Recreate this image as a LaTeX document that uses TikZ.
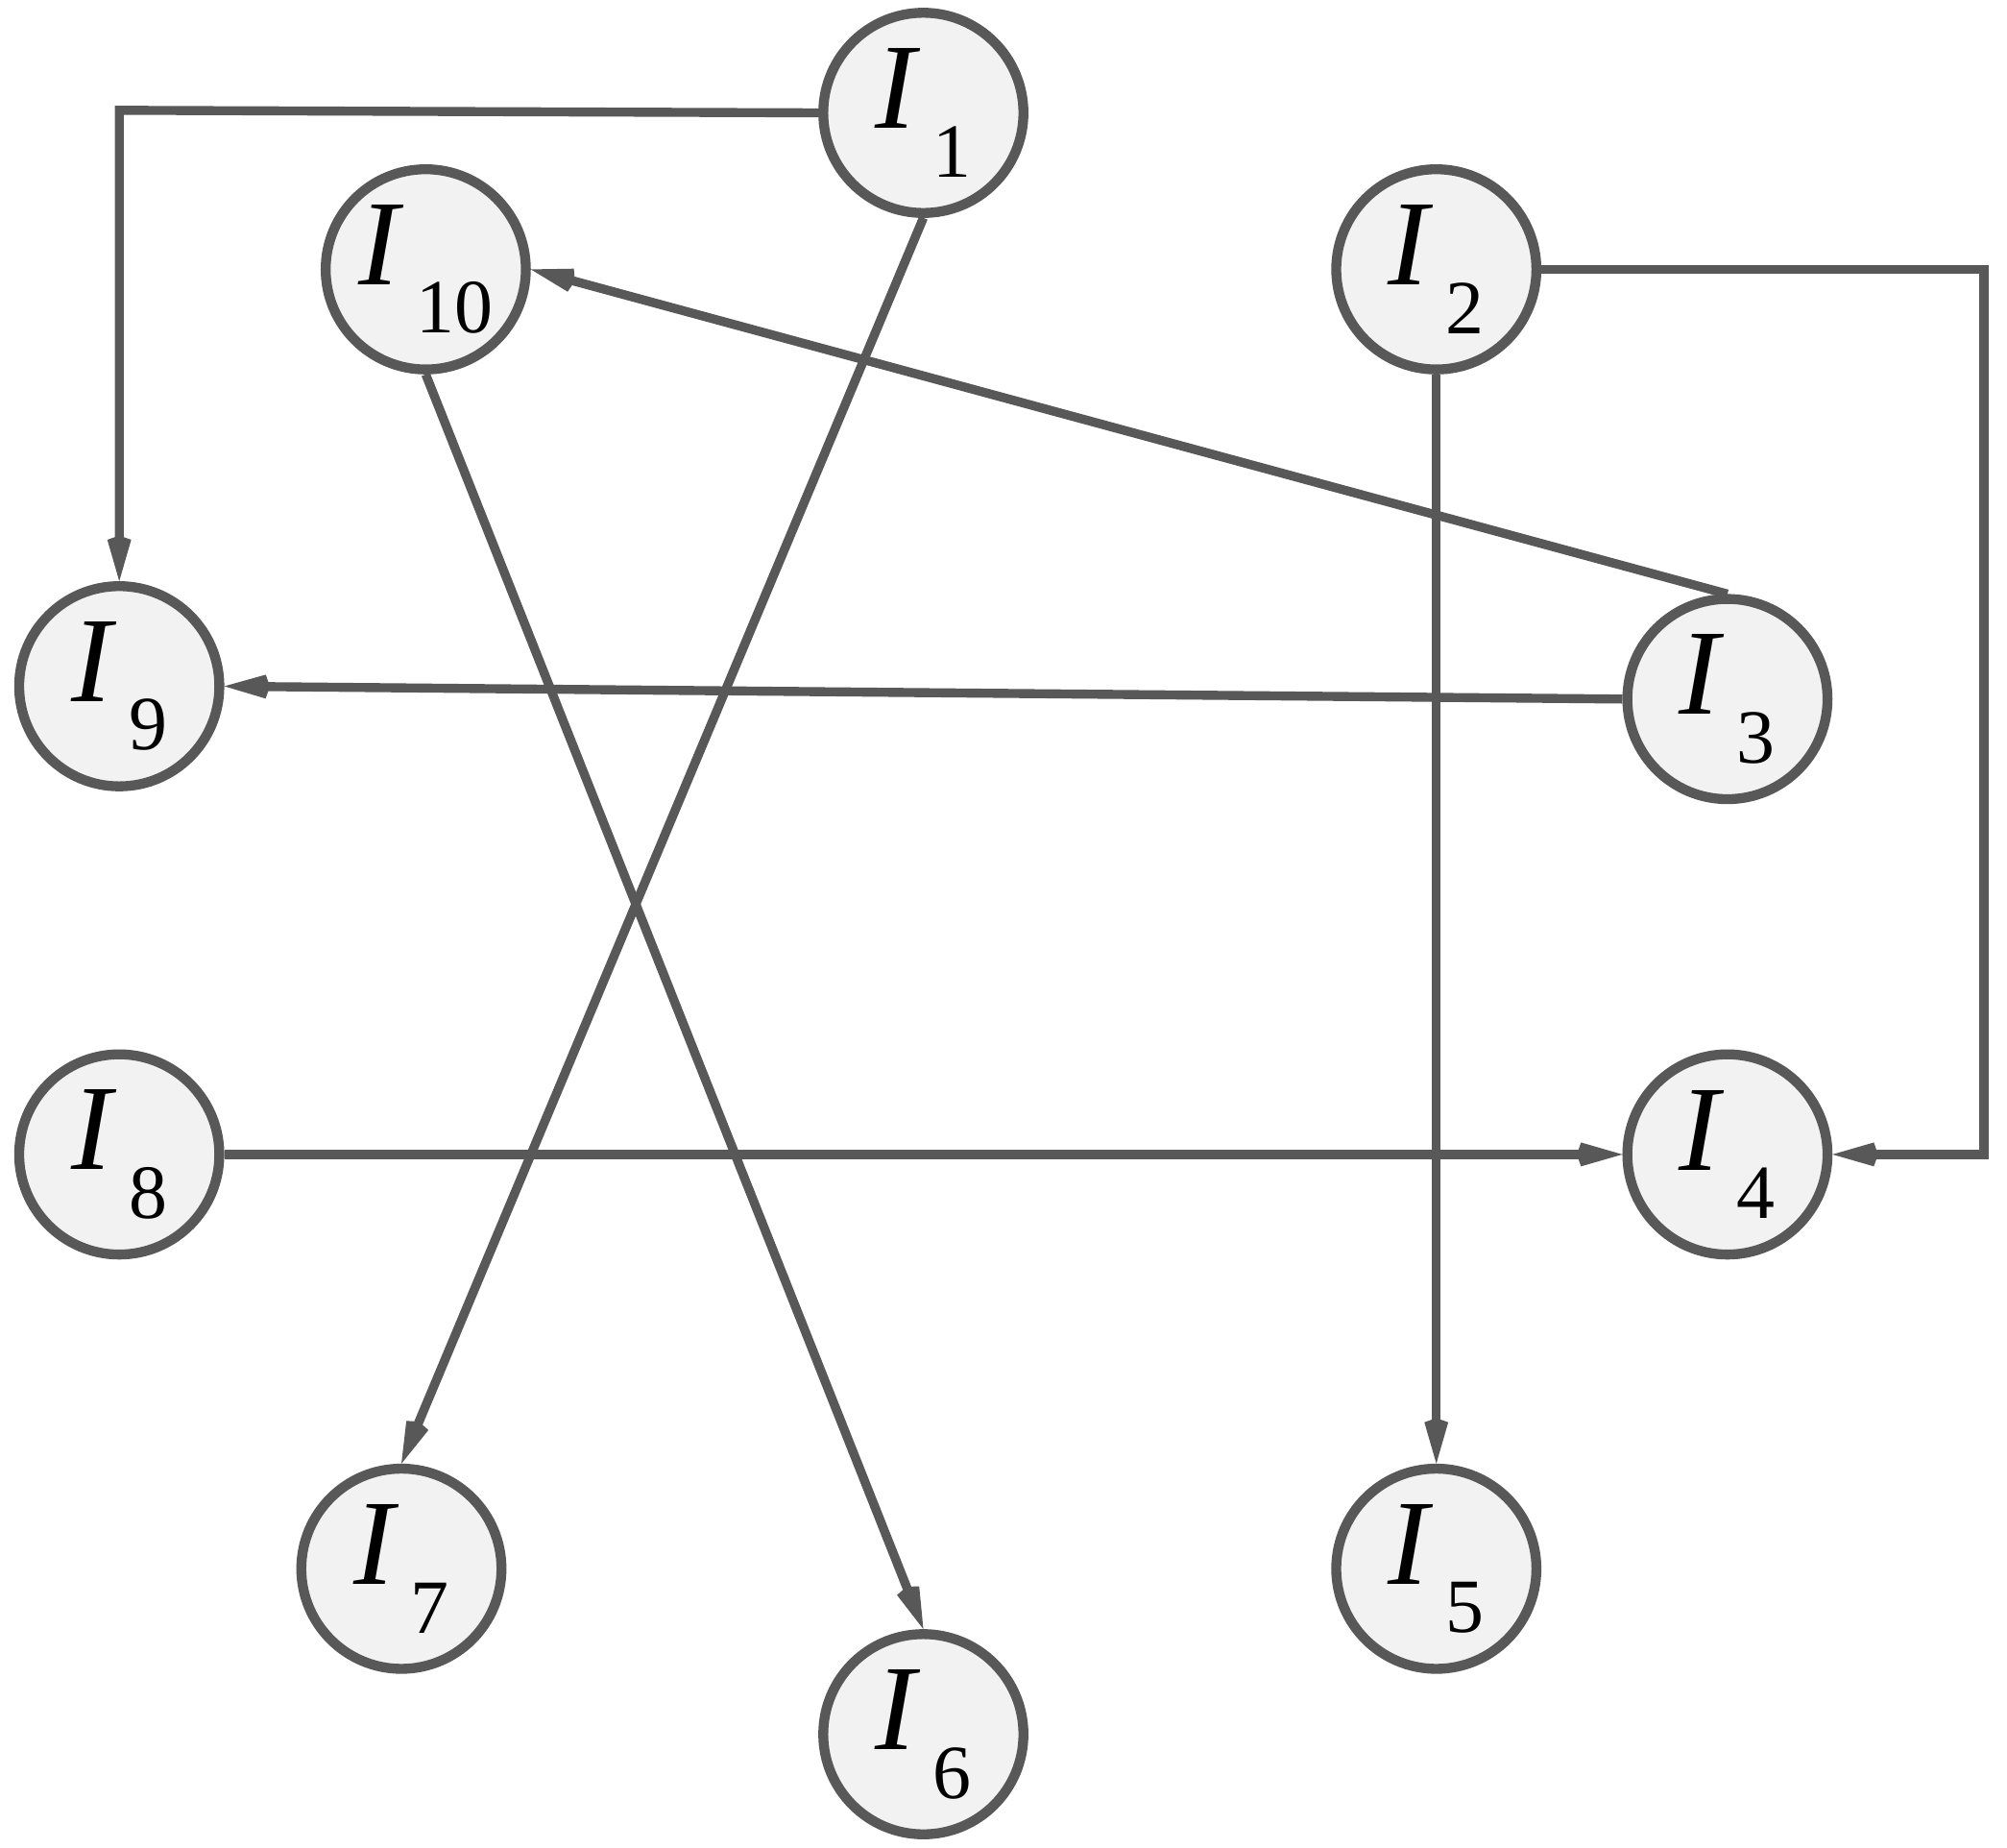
\documentclass[tikz,border=0pt]{standalone}
\usepackage{fontspec}
\setmainfont{Liberation Serif}
\usetikzlibrary{arrows.meta}
\definecolor{edgegray}{RGB}{88,88,88}
\definecolor{nodefill}{RGB}{242,242,242}
\newcommand{\lab}[1]{\fontsize{27}{27}\selectfont\textit{I}\hspace{0.1em}\raisebox{-0.4em}{\fontsize{17}{17}\selectfont #1}}
\tikzset{
  >={Stealth[length=26pt,width=15pt,inset=18pt]},
  item/.style={circle, draw=edgegray, fill=nodefill, line width=2.2pt, minimum size=1.56cm, inner sep=0pt},
  link/.style={draw=edgegray, line width=2pt, ->}
}
\begin{document}
\begin{tikzpicture}[x=0.01cm,y=-0.01cm]
\useasboundingbox (0,0) rectangle (1565,1440);

 \node[item] (i1) at (720,88) {\lab{1}};
 \node[item] (i10) at (332,210) {\lab{10}};
 \node[item] (i2) at (1120,210) {\lab{2}};
 \node[item] (i9) at (93,535) {\lab{9}};
 \node[item] (i3) at (1347,545) {\lab{3}};
 \node[item] (i8) at (93,900) {\lab{8}};
 \node[item] (i4) at (1347,900) {\lab{4}};
 \node[item] (i7) at (313,1223) {\lab{7}};
 \node[item] (i6) at (720,1352) {\lab{6}};
 \node[item] (i5) at (1120,1223) {\lab{5}};

 \coordinate (c1) at (93,86);
 \coordinate (c2) at (1547,210);
 \coordinate (c3) at (1547,900);

 \draw[link] (i1.west) -- (c1) -- (i9.north);
 \draw[link] (i1.south) -- (i7.north);
 \draw[link] (i10.south) -- (i6.north);
 \draw[link] (i3.north) -- (i10.east);
 \draw[link] (i3.west) -- (i9.east);
 \draw[link] (i2.east) -- (c2) -- (c3) -- (i4.east);
 \draw[link] (i2.south) -- (i5.north);
 \draw[link] (i8.east) -- (i4.west);

\end{tikzpicture}
\end{document}
